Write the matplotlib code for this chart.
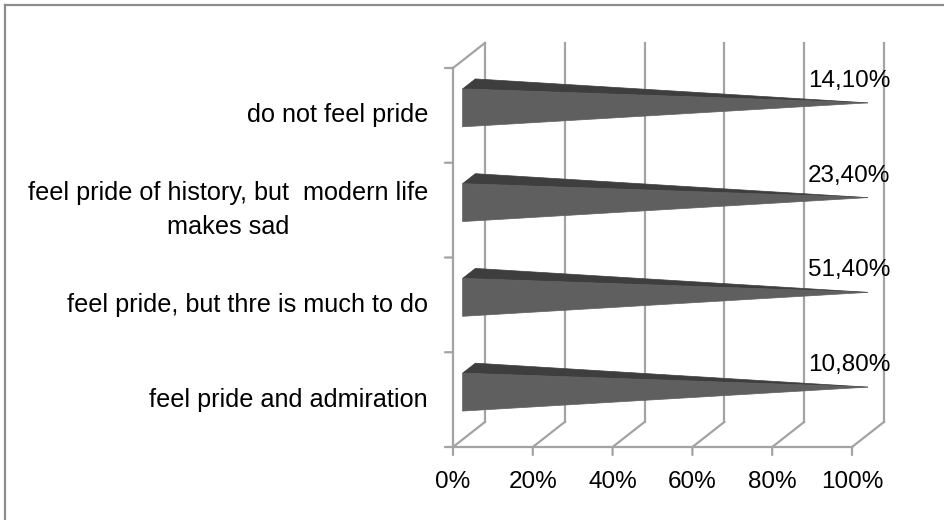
import matplotlib
matplotlib.use("Agg")
import matplotlib.pyplot as plt
from matplotlib.patches import Polygon

# data
categorias = ["feel pride and admiration",
              "feel pride, but thre is much to do",
              "feel pride of history, but  modern life\nmakes sad",
              "do not feel pride"]
rotulos = ["10,80%", "51,40%", "23,40%", "14,10%"]
valores = [100, 100, 100, 100]  # 100% stacked: every bar reaches the end
ticks_x = [0, 20, 40, 60, 80, 100]
ticks_x_rotulos = ["0%", "20%", "40%", "60%", "80%", "100%"]

# fake 3D: depth offset in data units
DX = 8.0
DY = 0.264
cor_grade = "#a3a3a3"
cor_frente = "#5f5f5f"
cor_topo = "#3e3e3e"
fonte = "Liberation Sans"
tam = 17.5


def proj(x, y, d):
    return (x + d * DX, y + d * DY)


fig = plt.figure(figsize=(9.45, 5.2), dpi=100)
W, H = 945, 520
ax = fig.add_axes([453 / W, (H - 447) / H, (852 - 453) / W, (447 - 68) / H])
ax.set_xlim(0, 100)
ax.set_ylim(0, 4)
ax.axis("off")

# back wall gridlines
for t in ticks_x:
    x0, y0 = proj(t, 0, 1)
    x1, y1 = proj(t, 4, 1)
    ax.plot([x0, x1], [y0, y1], color=cor_grade, lw=1.6, clip_on=False, zorder=1)
    # floor diagonals
    xa, ya = proj(t, 0, 0)
    ax.plot([xa, x0], [ya, y0], color=cor_grade, lw=1.6, clip_on=False, zorder=1)
    # bottom tick
    ax.annotate("", xy=(xa, ya), xytext=(0, -8), textcoords="offset pixels",
                arrowprops=dict(arrowstyle="-", color=cor_grade, lw=1.6, shrinkA=0, shrinkB=0))
    ax.annotate(ticks_x_rotulos[ticks_x.index(t)], xy=(xa, ya), xytext=(0, -35),
                textcoords="offset pixels", ha="center", va="center",
                fontsize=tam, family=fonte, annotation_clip=False)

# front baseline
ax.plot([0, 100], [0, 0], color=cor_grade, lw=1.6, clip_on=False, zorder=1)
# left wall
ax.plot([0, 0], [0, 4], color=cor_grade, lw=1.6, clip_on=False, zorder=1)
xt, yt = proj(0, 4, 1)
ax.plot([0, xt], [4, yt], color=cor_grade, lw=1.6, clip_on=False, zorder=1)
for k in range(5):
    ax.annotate("", xy=(0, k), xytext=(-8, 0), textcoords="offset pixels",
                arrowprops=dict(arrowstyle="-", color=cor_grade, lw=1.6, shrinkA=0, shrinkB=0))

# pyramids
meia = 0.2
for i, (v, rot) in enumerate(zip(valores, rotulos)):
    c = i + 0.5
    topo = [proj(0, c + meia, 0.3), proj(0, c + meia, 0.7), proj(v, c, 0.5)]
    frente = [proj(0, c + meia, 0.3), proj(0, c - meia, 0.3), proj(v, c, 0.5)]
    ax.add_patch(Polygon(topo, closed=True, fc=cor_topo, ec=cor_topo, lw=0.5,
                         clip_on=False, zorder=3))
    ax.add_patch(Polygon(frente, closed=True, fc=cor_frente, ec=cor_frente, lw=0.5,
                         clip_on=False, zorder=4))
    ax.annotate(rot, xy=proj(v, c, 0.5), xytext=(-19, 22), textcoords="offset pixels",
                ha="center", va="center", fontsize=tam, family=fonte,
                annotation_clip=False, zorder=5)
    ax.annotate(categorias[i], xy=(0, c), xytext=(-25, 0), textcoords="offset pixels",
                ha="right", va="center", multialignment="center",
                fontsize=18.2, family=fonte, annotation_clip=False, linespacing=1.5)

# outer border (top and left only visible)
fig.add_artist(plt.Line2D([5.5 / W, 1], [1 - 4.5 / H, 1 - 4.5 / H], color="#8c8c8c", lw=1.6))
fig.add_artist(plt.Line2D([5.5 / W, 5.5 / W], [0, 1 - 4.5 / H], color="#8c8c8c", lw=1.6))

fig.savefig("out.png", dpi=100, facecolor="white")
